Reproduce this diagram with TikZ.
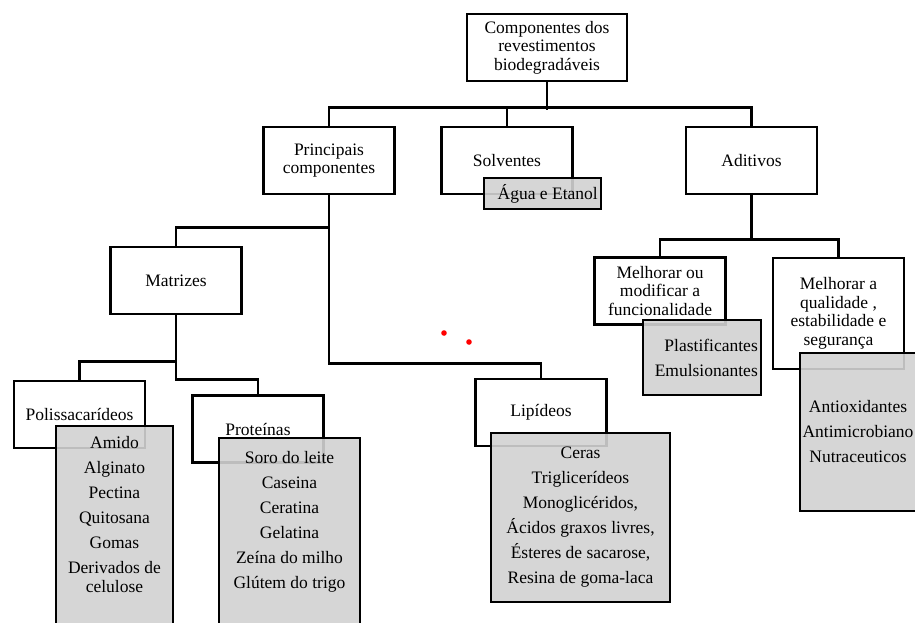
\documentclass[tikz,border=0pt]{standalone}
\usepackage{fontspec}
\setmainfont{Liberation Serif}
\begin{document}
\begin{tikzpicture}[x=1pt,y=-1pt,
  caixa/.style={draw,line width=2.6pt,fill=white,minimum width=131pt,minimum height=67pt,
    inner sep=2pt,align=center,font=\fontsize{17.5}{18.5}\selectfont},
  lista/.style={draw,line width=2.6pt,fill=gray!35,fill opacity=0.9,inner sep=0pt},
  texto/.style={align=center,inner sep=0pt,font=\fontsize{17.5}{25}\selectfont},
  linha/.style={line width=2.6pt}]
\useasboundingbox (0,0) rectangle (915,622);
%white boxes
\node[caixa,minimum width=160pt] (topo) at (547,47.5) {Componentes dos\\revestimentos\\biodegradáveis};
\node[caixa] (princ) at (329,160.5) {Principais\\componentes};
\node[caixa] (solv) at (507,160.5) {Solventes};
\node[caixa] (adit) at (751.5,160.5) {Aditivos};
\node[caixa] (matr) at (176,280.5) {Matrizes};
\node[caixa] (polis) at (79.5,414.5) {Polissacarídeos};
\node[caixa] (prot) at (258,429) {Proteínas};
\node[caixa] (lip) at (541,412.5) {Lipídeos};
\node[caixa] (melhA) at (660,291) {Melhorar ou\\modificar a\\funcionalidade};
\node[caixa,minimum height=111pt] (melhB) at (838.5,313.5) {Melhorar a\\qualidade ,\\estabilidade e\\segurança};
%connectors
\draw[linha] (topo.south) -- ++(0,28);
\draw[linha] (princ.north) -- ++(0,-18) -| (adit.north);
\draw[linha] (solv.north) -- ++(0,-18);
\draw[linha] (princ.south) -- ++(0,168) -| (lip.north);
\draw[linha] (matr.north) -- ++(0,-18) -| (princ.south);
\draw[linha] (matr.south) -- ++(0,64) -| (prot.north);
\draw[linha] (polis.north) -- ++(0,-18) -| (matr.south);
\draw[linha] (adit.south) -- ++(0,46);
\draw[linha] (melhA.north) -- ++(0,-17) -| (melhB.north);
%grey lists
\node[lista,minimum width=117pt,minimum height=31pt] (aguaL) at (542.5,193.5) {};
\node[lista,minimum width=118pt,minimum height=75pt] (plastL) at (702,357.5) {};
\node[lista,minimum width=124pt,minimum height=158pt] (antioxL) at (862,432) {};
\node[lista,minimum width=179pt,minimum height=169pt] (cerasL) at (580.5,517.5) {};
\node[lista,minimum width=117pt,minimum height=240pt] (amidoL) at (114.5,546) {};
\node[lista,minimum width=141pt,minimum height=220pt] (soroL) at (289.5,548) {};
%list texts
\node[texto,anchor=east] (aguaT) at (598,194) {Água e Etanol};
\node[texto,anchor=east,align=right] (plastT) at (758,357.5) {Plastificantes\\Emulsionantes};
\node[texto] (antioxT) at (858,432) {Antioxidantes\\Antimicrobiano\\Nutraceuticos};
\node[texto] (cerasT) at (cerasL) {Ceras\\Triglicerídeos\\Monoglicéridos,\\Ácidos graxos livres,\\Ésteres de sacarose,\\Resina de goma-laca};
\node[texto,anchor=north,font=\fontsize{17.5}{19}\selectfont] (amidoT) at (114.5,436)
  {Amido\\[6pt]Alginato\\[6pt]Pectina\\[6pt]Quitosana\\[6pt]Gomas\\[6pt]Derivados de\\celulose};
\node[texto,anchor=north] (soroT) at (289.5,451)
  {Soro do leite\\Caseina\\Ceratina\\Gelatina\\Zeína do milho\\Glútem do trigo};
%stray dots
\fill[red] (444,333) circle (2.8pt);
\fill[red] (469,342) circle (2.8pt);
\end{tikzpicture}
\end{document}
